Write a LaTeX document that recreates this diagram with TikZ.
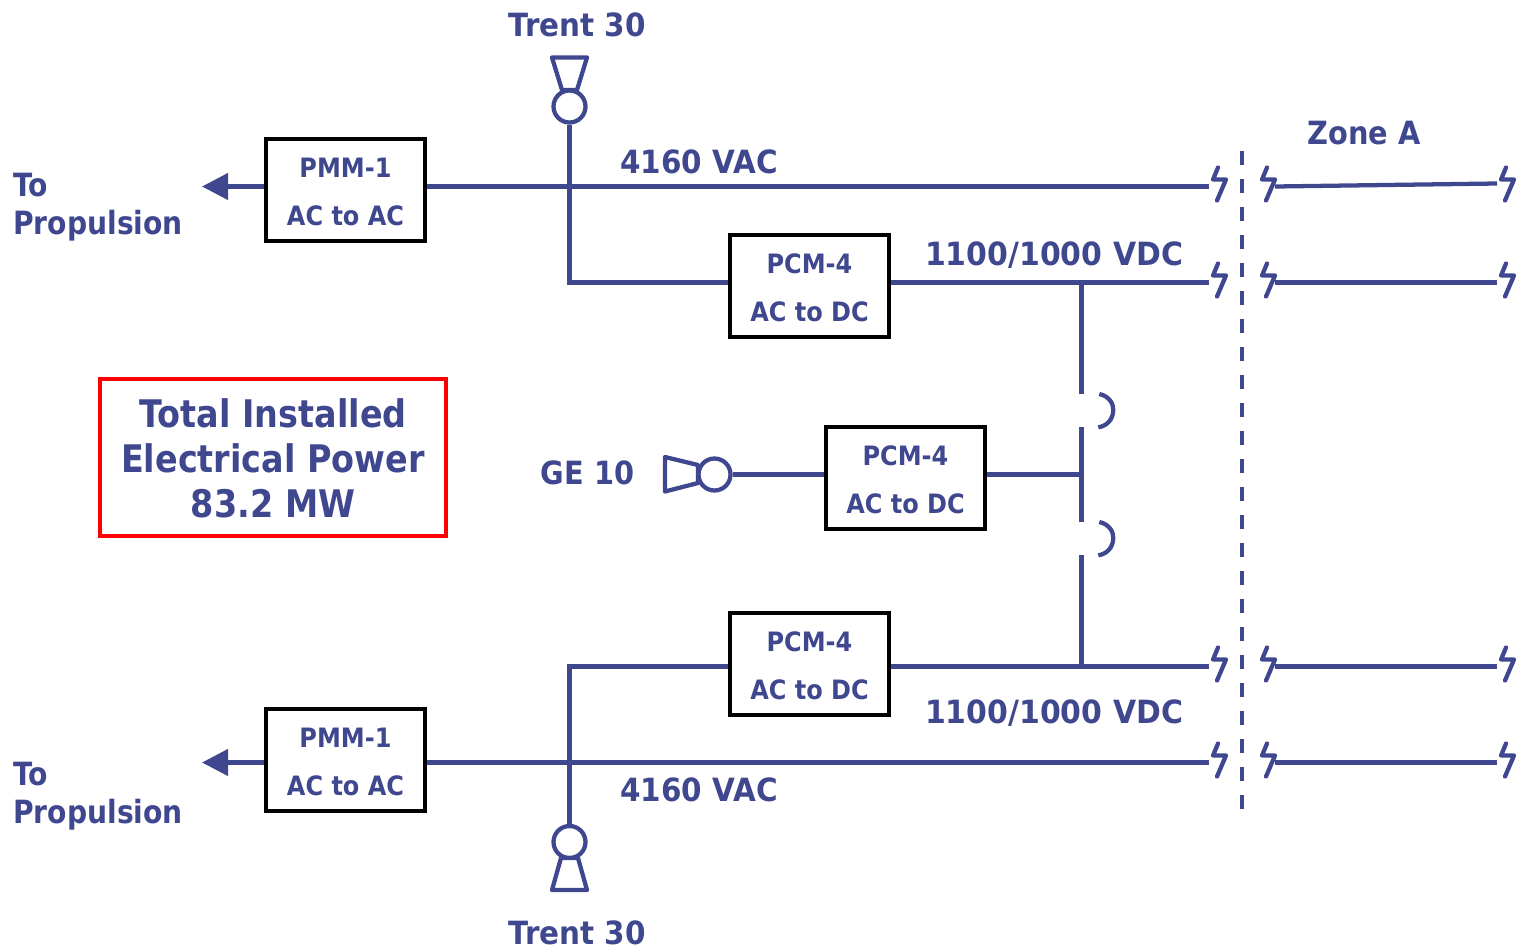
\documentclass[tikz,border=0pt]{standalone}
\usepackage{fontspec}
\newfontfamily\lab[FakeStretch=0.9]{DejaVu Sans Bold}
\newfontfamily\labm[FakeStretch=0.92]{DejaVu Sans Bold}
\newfontfamily\labw[FakeStretch=0.935]{DejaVu Sans Bold}
\newfontfamily\labn[FakeStretch=0.88]{DejaVu Sans Bold}
\usetikzlibrary{arrows.meta}
\definecolor{busblue}{RGB}{63,71,143}
\newcommand\boxlift{\rule{0pt}{17pt}}
\tikzset{
  x=0.75pt,y=-0.75pt,
  bus/.style={draw=busblue,line width=3.2pt},
  symb/.style={draw=busblue,line width=3.2pt,line join=round,fill=white},
  brk/.style={draw=busblue,line width=3.2pt,line cap=round,line join=round},
  conv/.style={draw=black,line width=3.2pt,fill=white,minimum width=119.6pt,minimum height=76.9pt,inner sep=0pt,
     font=\lab\fontsize{20}{36}\selectfont,text=busblue,align=center},
  lbl/.style={font=\lab\fontsize{24}{28.5}\selectfont,text=busblue,inner sep=0pt},
  lbln/.style={lbl,font=\labn\fontsize{24}{28.5}\selectfont},
  lblm/.style={lbl,font=\labm\fontsize{24}{28.5}\selectfont},
  lblw/.style={lbl,font=\labw\fontsize{24}{28.5}\selectfont},
  gen/.style={circle,symb,minimum size=24pt,inner sep=0pt},
  pics/zig/.style={code={\draw[brk] (-1,-19)--(-6,-7)--(7,-7)--(-2,14);}},
  pics/jump/.style={code={\draw[brk,line cap=butt] (17.8,0) .. controls (27,2) and (32,9) .. (31.8,16) .. controls (31.5,26) and (25,32) .. (16.8,33.3);}},
}
\begin{document}
\begin{tikzpicture}
\useasboundingbox (0,0) rectangle (1526,949);
% coordinates
\foreach \n/\y in {A/186.5,B/282.5,C/666.5,D/762.5}{
  \coordinate (\n1) at (1209,\y);
  \coordinate (\n2) at (1275,\y);
  \coordinate (\n3) at (1497,\y);
  \pic at (1219,\y) {zig};
  \pic at (1268,\y) {zig};
  \pic at (1507,\y) {zig};
}
\coordinate (A3) at (1497,183.5);
\coordinate (zs) at (1241.5,151);
\coordinate (ze) at (1241.5,811);
\coordinate (tipT) at (202,186.5);
\coordinate (tipB) at (202,762.5);
\coordinate (jT) at (569.5,186.5);
\coordinate (jT2) at (569.5,282.5);
\coordinate (jB) at (569.5,666.5);
\coordinate (v1) at (1081.5,282.5);
\coordinate (v1e) at (1081.5,394);
\coordinate (v2) at (1081.5,427);
\coordinate (v2e) at (1081.5,522);
\coordinate (v3) at (1081.5,555);
\coordinate (v4) at (1081.5,666.5);
\coordinate (vm) at (1081.5,474.5);
% boxes
\node[conv] (pmmT) at (345.5,190) {\boxlift PMM-1\\AC to AC};
\node[conv] (pcmT) at (809.5,286) {\boxlift PCM-4\\AC to DC};
\node[conv] (pcmM) at (905.5,478) {\boxlift PCM-4\\AC to DC};
\node[conv] (pcmB) at (809.5,664) {\boxlift PCM-4\\AC to DC};
\node[conv] (pmmB) at (345.5,760) {\boxlift PMM-1\\AC to AC};
\node[draw=red,line width=3pt,minimum width=259pt,minimum height=117.5pt,inner sep=0pt,align=center,
  font=\labn\fontsize{28.5}{33.75}\selectfont,text=busblue] (total) at (273,457.5)
  {\rule{0pt}{23.5pt}Total Installed\\Electrical Power\\83.2 MW};
% generators
\node[gen] (genT) at (569.5,106.5) {};
\node[gen] (genM) at (714.5,474.5) {};
\node[gen] (genB) at (569.5,842) {};
\draw[symb] (552,57.5)--(587,57.5)--(577,90)--(562,90)--cycle;
\draw[symb] (665,457)--(698,465)--(698,483)--(665,491.5)--cycle;
\draw[symb] (552,890)--(587,890)--(578,858)--(561,858)--cycle;
% buses
\draw[bus] (pmmT.east |- jT) -- (A1);
\draw[bus] (genT.south) -- (jT2) -- (pcmT.west |- jT2);
\draw[bus] (pcmT.east |- v1) -- (B1);
\draw[bus] (A2) -- (A3);
\draw[bus] (B2) -- (B3);
\draw[bus] (C2) -- (C3);
\draw[bus] (D2) -- (D3);
\draw[bus] (pcmB.east |- v4) -- (C1);
\draw[bus] (pmmB.east |- tipB) -- (D1);
\draw[bus] (genB.north) -- (jB) -- (pcmB.west |- jB);
\draw[bus] (genM.east) -- (pcmM.west |- genM);
\draw[bus] (pcmM.east |- vm) -- (vm);
\draw[bus] (v1) -- (v1e);
\draw[bus] (v2) -- (v2e);
\draw[bus] (v3) -- (v4);
\draw[bus,-{Triangle[length=19.5pt,width=19.5pt,fill=busblue]}] (pmmT.west |- tipT) -- (tipT);
\draw[bus,-{Triangle[length=19.5pt,width=19.5pt,fill=busblue]}] (pmmB.west |- tipB) -- (tipB);
% jumpers
\pic at (v1e) {jump};
\pic at (v2e) {jump};
% zone boundary
\draw[draw=busblue,line width=3pt,dash pattern=on 10.5pt off 10.5pt] (zs) -- (ze);
% labels
\node[lbln,anchor=west] (lT) at (13,208) {\begin{tabular}{@{}l@{}}To\\[0pt]Propulsion\end{tabular}};
\node[lbln,anchor=west] (lB) at (13,797) {\begin{tabular}{@{}l@{}}To\\[0pt]Propulsion\end{tabular}};
\node[lblm] (t1) at (577,24.5) {Trent 30};
\node[lblm] (t2) at (577,933) {Trent 30};
\node[lbl] (ge) at (587.5,473) {GE 10};
\node[lbl] (za) at (1364,133.5) {Zone A};
\node[lblm] (v41) at (699,161.5) {4160 VAC};
\node[lblm] (v42) at (699,789.5) {4160 VAC};
\node[lblw] (d1) at (1054,255) {1100/1000 VDC};
\node[lblw] (d2) at (1054,713) {1100/1000 VDC};
\end{tikzpicture}
\end{document}
